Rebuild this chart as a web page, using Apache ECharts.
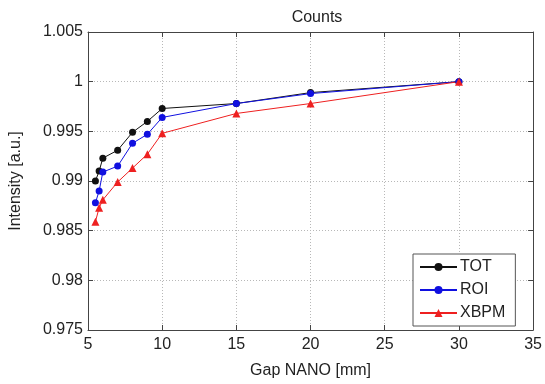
<!DOCTYPE html>
<html>
<head>
<meta charset="utf-8">
<script src="https://cdn.jsdelivr.net/npm/echarts@6/dist/echarts.min.js"></script>
<style>
  html, body { margin: 0; padding: 0; background: #fff; }
  #chart { width: 545px; height: 384px; }
</style>
</head>
<body>
<div id="chart"></div>
<script>
// gap positions [mm]
const gaps = [5.5, 5.75, 6, 7, 8, 9, 10, 15, 20, 30]
// normalised intensity per detector
const tot = [0.9900, 0.9910, 0.9923, 0.9931, 0.9949, 0.9960, 0.9973, 0.9978, 0.9989, 1.0]
const roi = [0.9878, 0.9890, 0.9909, 0.9915, 0.9938, 0.9947, 0.9964, 0.9978, 0.9988, 1.0]
const xbpm = [0.9859, 0.9873, 0.9881, 0.9899, 0.9913, 0.9927, 0.9948, 0.9968, 0.9978, 1.0]

const font = 'Liberation Sans, Arial, sans-serif'
const textColor = '#222'
const fs = 16

const chart = echarts.init(document.getElementById('chart'))

const pairs = arr => gaps.map((g, i) => [g, arr[i]])

function series(name, data, color, symbol, size) {
  return {
    name,
    type: 'line',
    data: pairs(data),
    symbol,
    symbolSize: size,
    lineStyle: { width: 1, color },
    itemStyle: { color },
    emphasis: { disabled: true },
  }
}

const gridLine = { show: true, lineStyle: { color: '#b8b8b8', type: [1, 2], width: 1 } }
const frameLine = { show: true, lineStyle: { color: '#444', width: 1 } }
const tick = { inside: true, length: 5, lineStyle: { color: '#444' } }

const option = {
  animation: false,
  textStyle: { fontFamily: font },
  title: {
    text: 'Counts',
    left: 312,
    textAlign: 'center',
    top: 5,
    textStyle: { fontSize: fs, fontWeight: 'normal', color: textColor, fontFamily: font },
  },
  grid: { left: 86, right: 7, top: 32, bottom: 43 },
  legend: {
    orient: 'vertical',
    left: 413,
    top: 254,
    padding: [5, 10, 5, 6],
    itemGap: 7,
    itemWidth: 37,
    itemHeight: 10,
    backgroundColor: '#fff',
    borderColor: '#555',
    borderWidth: 1,
    borderRadius: 0,
    textStyle: { fontSize: fs, color: textColor, fontFamily: font, padding: [0, 0, 0, -2] },
    data: ['TOT', 'ROI', 'XBPM'],
  },
  xAxis: [
    {
      type: 'value',
      min: 5,
      max: 35,
      interval: 5,
      name: 'Gap NANO [mm]',
      nameLocation: 'middle',
      nameGap: 33,
      nameTextStyle: { fontSize: fs, color: textColor },
      axisLine: frameLine,
      axisTick: tick,
      axisLabel: { fontSize: fs, color: textColor, margin: 7 },
      splitLine: gridLine,
    },
    {
      type: 'value',
      position: 'top',
      min: 5,
      max: 35,
      interval: 5,
      axisLine: frameLine,
      axisTick: tick,
      axisLabel: { show: false },
      splitLine: { show: false },
    },
  ],
  yAxis: [
    {
      type: 'value',
      min: 0.975,
      max: 1.005,
      interval: 0.005,
      name: 'Intensity [a.u.]',
      nameLocation: 'middle',
      nameGap: 64,
      nameTextStyle: { fontSize: fs, color: textColor },
      axisLine: frameLine,
      axisTick: tick,
      axisLabel: {
        fontSize: fs,
        color: textColor,
        margin: 5,
        formatter: v => String(parseFloat(v.toFixed(3))),
      },
      splitLine: gridLine,
    },
    {
      type: 'value',
      position: 'right',
      min: 0.975,
      max: 1.005,
      interval: 0.005,
      axisLine: frameLine,
      axisTick: tick,
      axisLabel: { show: false },
      splitLine: { show: false },
    },
  ],
  series: [
    series('TOT', tot, '#111', 'circle', 7),
    series('ROI', roi, '#1010e0', 'circle', 7),
    series('XBPM', xbpm, '#ee2020', 'triangle', 8),
  ],
}

chart.setOption(option)
</script>
</body>
</html>
